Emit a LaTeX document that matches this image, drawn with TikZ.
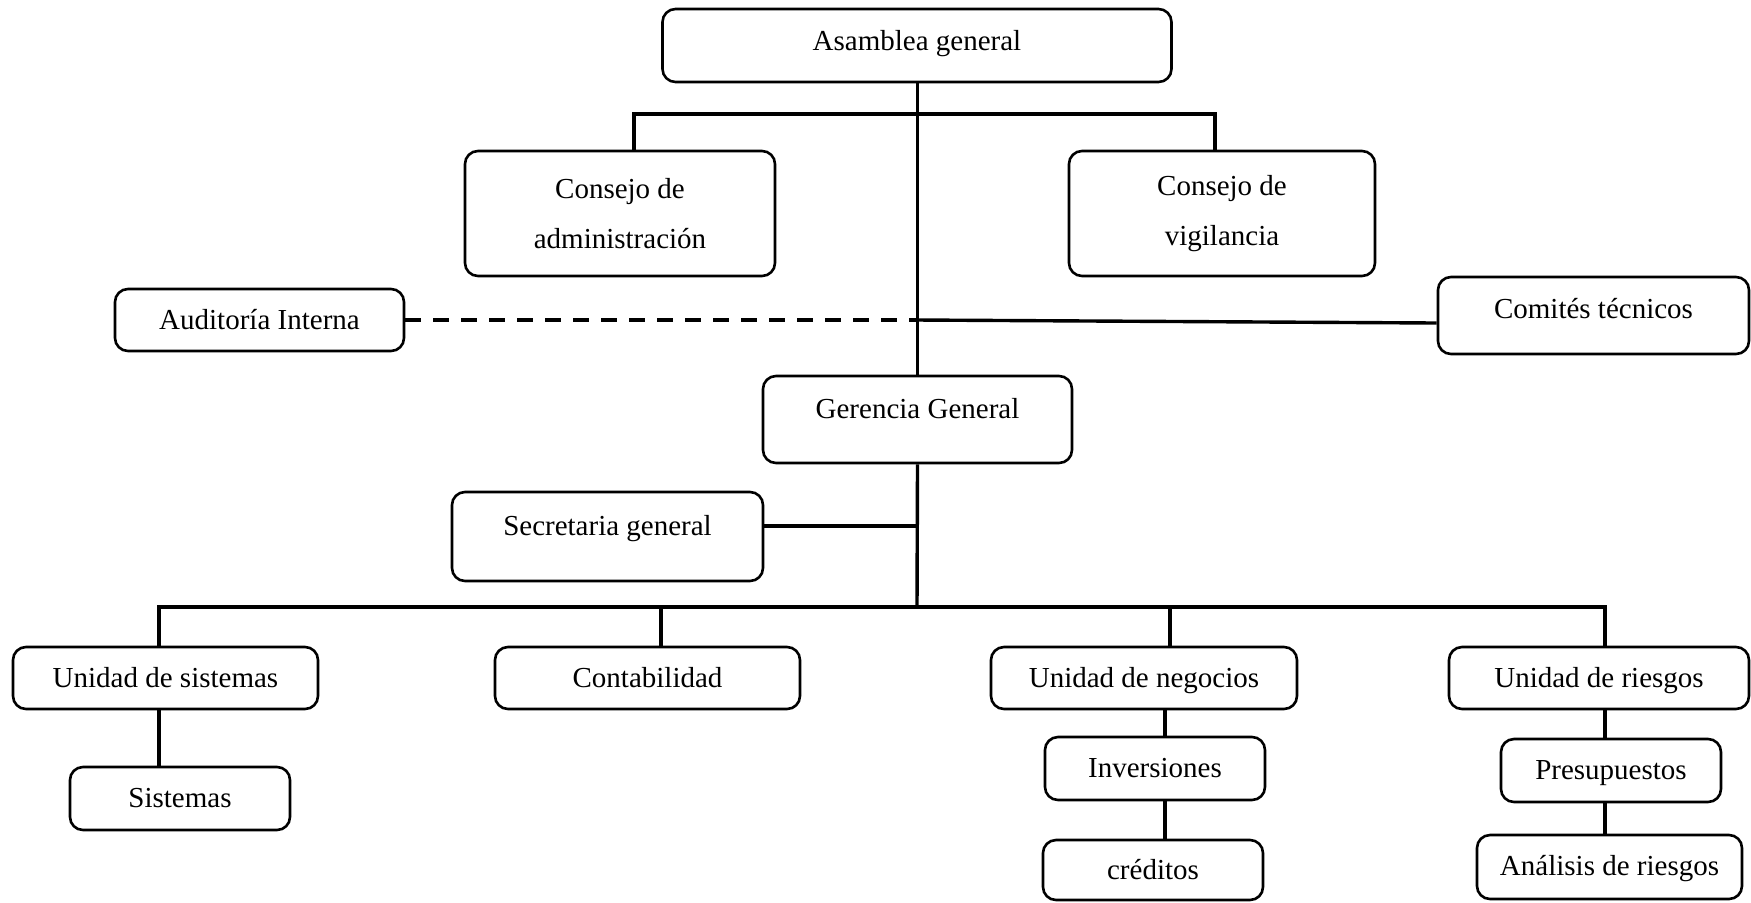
\documentclass[tikz,border=0pt]{standalone}
\usepackage{fontspec}
\setmainfont{Liberation Serif}
\begin{document}
\begin{tikzpicture}[x=0.5pt,y=-0.5pt,
  box/.style={draw, line width=1.3pt, rounded corners=6.5pt, inner sep=0pt,
    align=center, font=\fontsize{14.5pt}{25pt}\selectfont},
  link/.style={line width=1.7pt},
  dotlink/.style={line width=1.9pt, dash pattern=on 8pt off 6pt}]
\useasboundingbox (0,0) rectangle (1751,902);

% top level
\node[box, minimum width=254.5pt, text height=20.5pt, text depth=16pt] (asam) at (917,45.5) {Asamblea general};
\node[box, minimum width=155pt, minimum height=62.5pt] (cadm) at (620,213.5) {Consejo de\\administración};
\node[box, minimum width=153pt, minimum height=62.5pt] (cvig) at (1222,213.5) {Consejo de\\vigilancia};

% staff units
\node[box, minimum width=144.5pt, text height=20pt, text depth=11pt] (audi) at (259.5,320) {Auditoría Interna};
\node[box, minimum width=155.5pt, text height=20.5pt, text depth=18pt] (comi) at (1593.5,315.5) {Comités técnicos};

% management
\node[box, minimum width=154.5pt, text height=21pt, text depth=22.5pt] (gere) at (917.5,419.5) {Gerencia General};
\node[box, minimum width=155.5pt, text height=21.5pt, text depth=23pt] (secr) at (607.5,536.5) {Secretaria general};

% units
\node[box, minimum width=152.5pt, text height=20pt, text depth=11pt] (usis) at (165.5,678) {Unidad de sistemas};
\node[box, minimum width=152.5pt, text height=20pt, text depth=11pt] (cont) at (647.5,678) {Contabilidad};
\node[box, minimum width=153pt, text height=20pt, text depth=11pt] (uneg) at (1144,678) {Unidad de negocios};
\node[box, minimum width=150pt, text height=20pt, text depth=11pt] (urie) at (1599,678) {Unidad de riesgos};

% sub-units
\node[box, minimum width=110pt, text height=20.25pt, text depth=11.25pt] (sist) at (180,798.5) {Sistemas};
\node[box, minimum width=110pt, text height=20.25pt, text depth=11.25pt] (inve) at (1155,768.5) {Inversiones};
\node[box, minimum width=110pt, text height=19.5pt, text depth=10.5pt] (cred) at (1153,870) {créditos};
\node[box, minimum width=110pt, text height=20.25pt, text depth=11.25pt] (pres) at (1611,770.5) {Presupuestos};
\node[box, minimum width=132.5pt, text height=20.3pt, text depth=11.7pt] (anal) at (1609.5,867) {Análisis de riesgos};

% junction points
\coordinate (barL) at (634,114);
\coordinate (barR) at (1215,114);
\coordinate (jn) at (917,320);
\coordinate (bot) at (917,607);
\coordinate (d1) at (159,607);
\coordinate (d2) at (661,607);
\coordinate (d3) at (1170,607);
\coordinate (d4) at (1605,607);
\coordinate (sx) at (1165,0);
\coordinate (ce) at ([yshift=-3.75pt]comi.west);
\coordinate (se) at ([yshift=5.25pt]secr.east);

% connectors
\draw[link] (asam.south -| gere.north) -- (gere.north);
\draw[link] (barL |- cadm.north) -- (barL) -- (barR) -- (barR |- cvig.north);
\draw[dotlink] (audi.east) -- (jn);
\draw[link] (jn) -- (ce);
\draw[link] (gere.south) -- (bot);
\draw[link] (se) -- (se -| gere.south);
\draw[link] (d1 |- usis.north) -- (d1) -- (d4) -- (d4 |- urie.north);
\draw[link] (d2) -- (d2 |- cont.north);
\draw[link] (d3) -- (d3 |- uneg.north);
\draw[link] (d1 |- usis.south) -- (d1 |- sist.north);
\draw[link] (sx |- uneg.south) -- (sx |- inve.north);
\draw[link] (sx |- inve.south) -- (sx |- cred.north);
\draw[link] (d4 |- urie.south) -- (d4 |- pres.north);
\draw[link] (d4 |- pres.south) -- (d4 |- anal.north);
\end{tikzpicture}
\end{document}
